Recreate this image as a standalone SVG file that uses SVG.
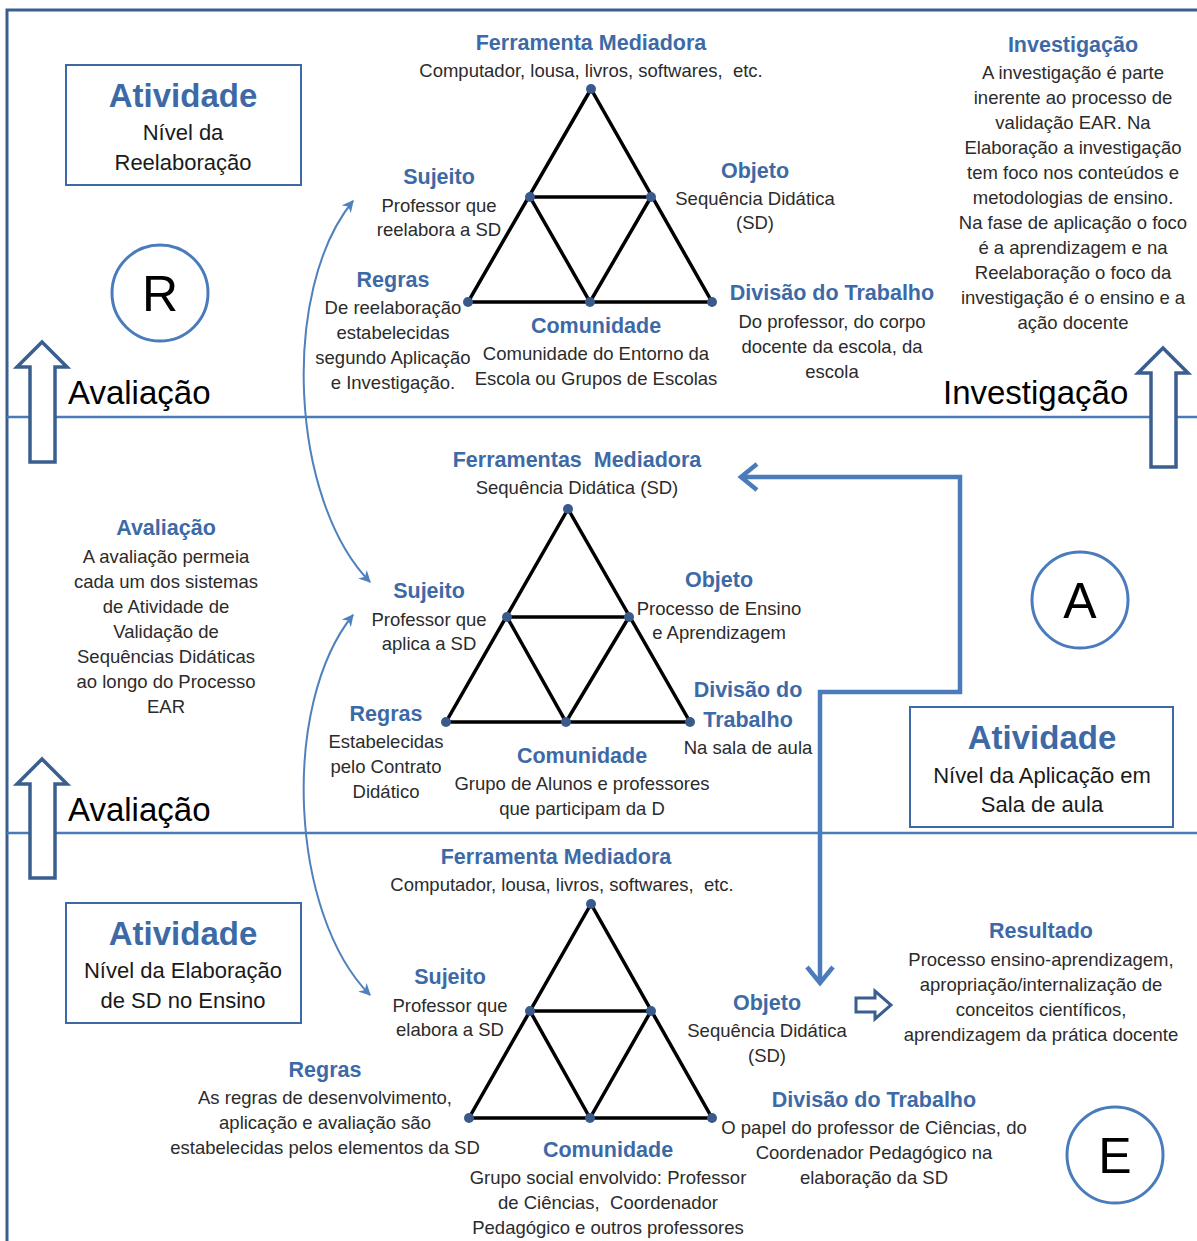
<svg xmlns="http://www.w3.org/2000/svg" width="1197" height="1241" viewBox="0 0 1197 1241">
<defs>
<style>
text{white-space:pre}
.t{font-family:"Liberation Sans",Arial,sans-serif;font-size:21.5px;font-weight:bold;fill:#3d6aa6;text-anchor:middle}
.b{font-family:"Liberation Sans",Arial,sans-serif;font-size:18.5px;fill:#2b2b2b;text-anchor:middle}
.bx{font-family:"Liberation Sans",Arial,sans-serif;font-size:22px;fill:#1a1a1a;text-anchor:middle}
.big{font-family:"Liberation Sans",Arial,sans-serif;font-size:33px;font-weight:bold;fill:#3d6aa6;text-anchor:middle}
.lab{font-family:"Liberation Sans",Arial,sans-serif;font-size:33px;fill:#000}
.let{font-family:"Liberation Sans",Arial,sans-serif;font-size:50px;fill:#000;text-anchor:middle}
.tri{fill:none;stroke:#000;stroke-width:3.5;stroke-linejoin:miter}
.dot{fill:#3a5a8c}
.box{fill:none;stroke:#3d6aa6;stroke-width:2}
.circ{fill:#fff;stroke:#4a7cbc;stroke-width:3}
.hol{fill:#fff;stroke:#3a5f8f;stroke-width:3.5;stroke-linejoin:miter}
.div{stroke:#4a7bb7;stroke-width:2.5}
.arc{fill:none;stroke:#4f81bd;stroke-width:2}
.con{fill:none;stroke:#4a7cbc;stroke-width:4.5}
</style>
<marker id="ah" viewBox="0 0 10 10" refX="9" refY="5" markerWidth="12" markerHeight="12" orient="auto-start-reverse" markerUnits="userSpaceOnUse">
<path d="M0,0 L10,5 L0,10 L3,5 Z" fill="#4f81bd"/>
</marker>
</defs>

<g id="frame">
<path d="M7,1241 V10 H1197" fill="none" stroke="#3a5f8f" stroke-width="3"/>
<line class="div" x1="7" y1="417" x2="1197" y2="417"/>
<line class="div" x1="7" y1="833" x2="1197" y2="833"/>
</g>

<g id="connectors">
<path class="arc" d="M353,201 C280,290 290,500 370,582" marker-start="url(#ah)" marker-end="url(#ah)"/>
<path class="arc" d="M353,615 C280,705 290,915 370,995" marker-start="url(#ah)" marker-end="url(#ah)"/>
<path class="con" d="M820,982 V692 H960 V477 H742"/>
<path d="M807,967 L820,983 L833,967" fill="none" stroke="#4a7cbc" stroke-width="4.5"/>
<path d="M757,464 L741,477 L757,490" fill="none" stroke="#4a7cbc" stroke-width="4.5"/>
</g>

<g id="arrows">
<path class="hol" d="M42,342 L67,367 L55,367 L55,462 L30,462 L30,367 L17,367 Z"/>
<path class="hol" d="M42,759 L67,784 L55,784 L55,878 L30,878 L30,784 L17,784 Z"/>
<path class="hol" d="M1163,348 L1188,373 L1176,373 L1176,467 L1151,467 L1151,373 L1138,373 Z"/>
<path class="hol" d="M856,998 L875,998 L875,991 L891,1005 L875,1019 L875,1012 L856,1012 Z" style="stroke-width:3"/>
</g>

<g id="triangle-top">
<path class="tri" d="M591,89 L468,302 L712,302 Z M530,197 L651,197 L590,302 Z"/>
<circle class="dot" cx="591" cy="89" r="5"/><circle class="dot" cx="468" cy="302" r="5"/><circle class="dot" cx="712" cy="302" r="5"/>
<circle class="dot" cx="530" cy="197" r="5"/><circle class="dot" cx="651" cy="197" r="5"/><circle class="dot" cx="590" cy="302" r="5"/>
</g>
<g id="triangle-mid">
<path class="tri" d="M568,509 L446,722 L690,722 Z M507,617 L629,617 L566,722 Z"/>
<circle class="dot" cx="568" cy="509" r="5"/><circle class="dot" cx="446" cy="722" r="5"/><circle class="dot" cx="690" cy="722" r="5"/>
<circle class="dot" cx="507" cy="617" r="5"/><circle class="dot" cx="629" cy="617" r="5"/><circle class="dot" cx="566" cy="722" r="5"/>
</g>
<g id="triangle-bot">
<path class="tri" d="M591,904 L469,1118 L712,1118 Z M530,1011 L651,1011 L590,1118 Z"/>
<circle class="dot" cx="591" cy="904" r="5"/><circle class="dot" cx="469" cy="1118" r="5"/><circle class="dot" cx="712" cy="1118" r="5"/>
<circle class="dot" cx="530" cy="1011" r="5"/><circle class="dot" cx="651" cy="1011" r="5"/><circle class="dot" cx="590" cy="1118" r="5"/>
</g>

<g id="circle-R"><circle class="circ" cx="160" cy="293" r="48"/><text class="let" x="160" y="311">R</text></g>
<g id="circle-A"><circle class="circ" cx="1080" cy="600" r="48"/><text class="let" x="1080" y="618">A</text></g>
<g id="circle-E"><circle class="circ" cx="1115" cy="1155" r="48"/><text class="let" x="1115" y="1173">E</text></g>

<g id="box-R">
<rect class="box" x="66" y="65" width="235" height="120"/>
<text class="big" x="183" y="107">Atividade</text>
<text class="bx" x="183" y="140">Nível da</text>
<text class="bx" x="183" y="170">Reelaboração</text>
</g>
<g id="box-A">
<rect class="box" x="910" y="707" width="263" height="120"/>
<text class="big" x="1042" y="749">Atividade</text>
<text class="bx" x="1042" y="783">Nível da Aplicação em</text>
<text class="bx" x="1042" y="812">Sala de aula</text>
</g>
<g id="box-E">
<rect class="box" x="66" y="903" width="235" height="120"/>
<text class="big" x="183" y="945">Atividade</text>
<text class="bx" x="183" y="978">Nível da Elaboração</text>
<text class="bx" x="183" y="1008">de SD no Ensino</text>
</g>

<g id="labels">
<text class="lab" x="68" y="404">Avaliação</text>
<text class="lab" x="68" y="821">Avaliação</text>
<text class="lab" x="943" y="404">Investigação</text>
</g>

<g id="top-texts">
<text class="t" x="591" y="50">Ferramenta Mediadora</text>
<text class="b" x="591" y="77">Computador, lousa, livros, softwares,  etc.</text>
<text class="t" x="439" y="184">Sujeito</text>
<text class="b" x="439" y="212">Professor que</text>
<text class="b" x="439" y="236">reelabora a SD</text>
<text class="t" x="755" y="178">Objeto</text>
<text class="b" x="755" y="205">Sequência Didática</text>
<text class="b" x="755" y="229">(SD)</text>
<text class="t" x="393" y="287">Regras</text>
<text class="b" x="393" y="314">De reelaboração</text>
<text class="b" x="393" y="339">estabelecidas</text>
<text class="b" x="393" y="364">segundo Aplicação</text>
<text class="b" x="393" y="389">e Investigação.</text>
<text class="t" x="596" y="333">Comunidade</text>
<text class="b" x="596" y="360">Comunidade do Entorno da</text>
<text class="b" x="596" y="385">Escola ou Grupos de Escolas</text>
<text class="t" x="832" y="300">Divisão do Trabalho</text>
<text class="b" x="832" y="328">Do professor, do corpo</text>
<text class="b" x="832" y="353">docente da escola, da</text>
<text class="b" x="832" y="378">escola</text>
<text class="t" x="1073" y="52">Investigação</text>
<text class="b" x="1073" y="79">A investigação é parte</text>
<text class="b" x="1073" y="104">inerente ao processo de</text>
<text class="b" x="1073" y="129">validação EAR. Na</text>
<text class="b" x="1073" y="154">Elaboração a investigação</text>
<text class="b" x="1073" y="179">tem foco nos conteúdos e</text>
<text class="b" x="1073" y="204">metodologias de ensino.</text>
<text class="b" x="1073" y="229">Na fase de aplicação o foco</text>
<text class="b" x="1073" y="254">é a aprendizagem e na</text>
<text class="b" x="1073" y="279">Reelaboração o foco da</text>
<text class="b" x="1073" y="304">investigação é o ensino e a</text>
<text class="b" x="1073" y="329">ação docente</text>
</g>

<g id="mid-texts">
<text class="t" x="577" y="467">Ferramentas  Mediadora</text>
<text class="b" x="577" y="494">Sequência Didática (SD)</text>
<text class="t" x="429" y="598">Sujeito</text>
<text class="b" x="429" y="626">Professor que</text>
<text class="b" x="429" y="650">aplica a SD</text>
<text class="t" x="719" y="587">Objeto</text>
<text class="b" x="719" y="615">Processo de Ensino</text>
<text class="b" x="719" y="639">e Aprendizagem</text>
<text class="t" x="748" y="697">Divisão do</text>
<text class="t" x="748" y="727">Trabalho</text>
<text class="b" x="748" y="754">Na sala de aula</text>
<text class="t" x="386" y="721">Regras</text>
<text class="b" x="386" y="748">Estabelecidas</text>
<text class="b" x="386" y="773">pelo Contrato</text>
<text class="b" x="386" y="798">Didático</text>
<text class="t" x="582" y="763">Comunidade</text>
<text class="b" x="582" y="790">Grupo de Alunos e professores</text>
<text class="b" x="582" y="815">que participam da D</text>
<text class="t" x="166" y="535">Avaliação</text>
<text class="b" x="166" y="563">A avaliação permeia</text>
<text class="b" x="166" y="588">cada um dos sistemas</text>
<text class="b" x="166" y="613">de Atividade de</text>
<text class="b" x="166" y="638">Validação de</text>
<text class="b" x="166" y="663">Sequências Didáticas</text>
<text class="b" x="166" y="688">ao longo do Processo</text>
<text class="b" x="166" y="713">EAR</text>
</g>

<g id="bot-texts">
<text class="t" x="556" y="864">Ferramenta Mediadora</text>
<text class="b" x="562" y="891">Computador, lousa, livros, softwares,  etc.</text>
<text class="t" x="450" y="984">Sujeito</text>
<text class="b" x="450" y="1012">Professor que</text>
<text class="b" x="450" y="1036">elabora a SD</text>
<text class="t" x="767" y="1010">Objeto</text>
<text class="b" x="767" y="1037">Sequência Didática</text>
<text class="b" x="767" y="1062">(SD)</text>
<text class="t" x="325" y="1077">Regras</text>
<text class="b" x="325" y="1104">As regras de desenvolvimento,</text>
<text class="b" x="325" y="1129">aplicação e avaliação são</text>
<text class="b" x="325" y="1154">estabelecidas pelos elementos da SD</text>
<text class="t" x="608" y="1157">Comunidade</text>
<text class="b" x="608" y="1184">Grupo social envolvido: Professor</text>
<text class="b" x="608" y="1209">de Ciências,  Coordenador</text>
<text class="b" x="608" y="1234">Pedagógico e outros professores</text>
<text class="t" x="874" y="1107">Divisão do Trabalho</text>
<text class="b" x="874" y="1134">O papel do professor de Ciências, do</text>
<text class="b" x="874" y="1159">Coordenador Pedagógico na</text>
<text class="b" x="874" y="1184">elaboração da SD</text>
<text class="t" x="1041" y="938">Resultado</text>
<text class="b" x="1041" y="966">Processo ensino-aprendizagem,</text>
<text class="b" x="1041" y="991">apropriação/internalização de</text>
<text class="b" x="1041" y="1016">conceitos científicos,</text>
<text class="b" x="1041" y="1041">aprendizagem da prática docente</text>
</g>
</svg>
